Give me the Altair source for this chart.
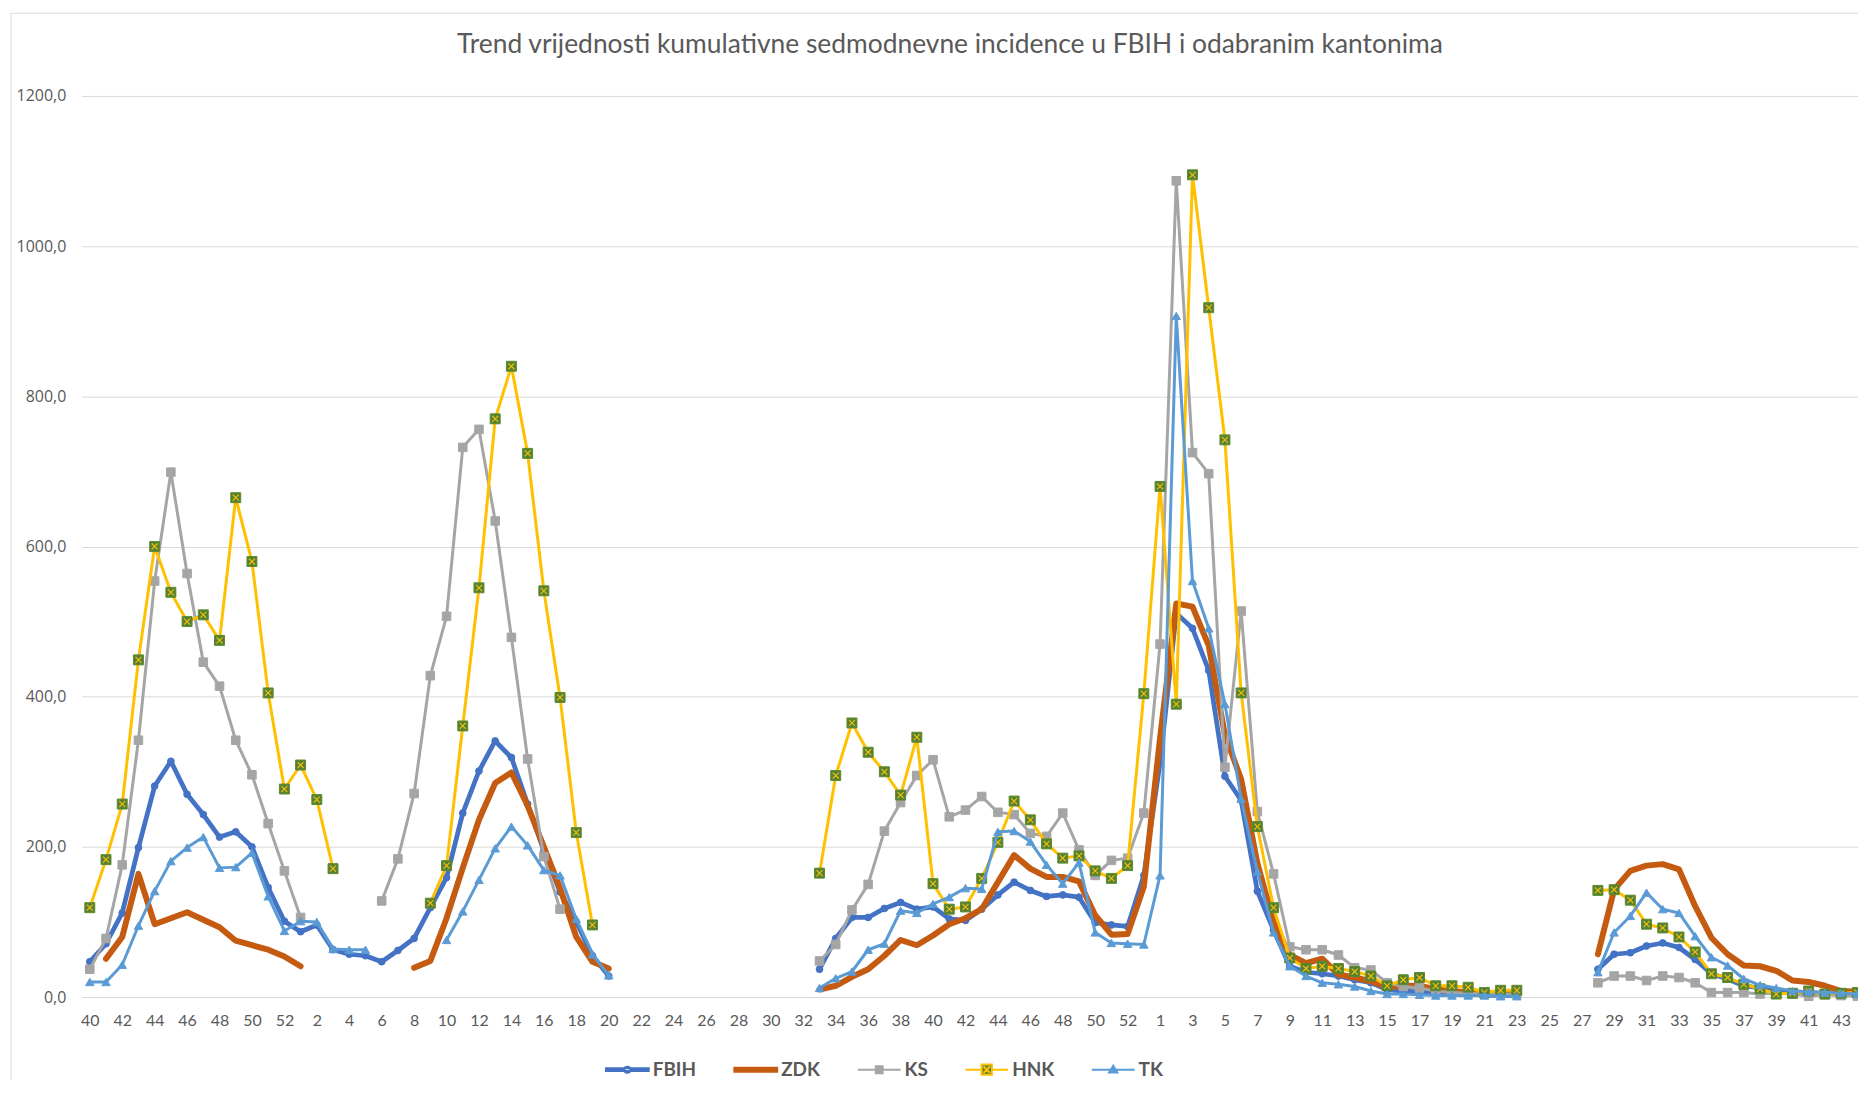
import json
import altair as alt
import pandas as pd

# ---------------- data ----------------
weeks = ([str(w) for w in range(40, 53)] + [str(w) for w in range(1, 53)] + ["53"]
         + [str(w) for w in range(1, 45)])

series_names = ["FBIH", "ZDK", "KS", "HNK", "TK"]

fbih = [47, 71, 112, 199, 281, 314, 270, 243, 213, 220, 200, 146, 101, 87, 96, 63, 57, 55, 47, 62,
        78, 119, 159, 245, 301, 341, 319, 257, 195, 140, 100, 55, 28,
        None, None, None, None, None, None, None, None, None, None, None, None,
        37, 78, 106, 106, 118, 126, 117, 120, 104, 102, 117, 136, 153, 142, 134, 136, 133, 99, 96, 94,
        162, 312, 511, 491, 435, 294, 262, 141, 89, 41, 33, 31, 28, 23, 19, 10, 8, 7, 5, 5, 4, 3, 2, 2,
        None, None, None, None,
        37, 57, 59, 68, 72, 66, 50, 31, 24, 15, 12, 8, 7, 6, 5, 4, 4]

zdk = [None, 51, 80, 164, 97, 105, 113, 103, 93, 75, 69, 63, 54, 41,
       None, None, None, None, None, None,
       39, 48, 105, 172, 236, 285, 299, 255, 200, 145, 80, 47, 38,
       None, None, None, None, None, None, None, None, None, None, None, None,
       10, 15, 27, 37, 55, 76, 69, 82, 97, 105, 117, 153, 189, 171, 160, 160, 154, 109, 83, 84,
       147, 345, 524, 520, 468, 349, 290, 178, 100, 56, 45, 51, 30, 26, 21, 13, 15, 15, 10, 8, 6, 5, 5, 5,
       None, None, None, None,
       57, 143, 168, 175, 177, 170, 121, 79, 57, 42, 41, 35, 22, 20, 15, 8, 7]

ks = [37, 78, 176, 342, 554, 699, 564, 446, 414, 342, 296, 231, 168, 106,
      None, None, None, None,
      128, 184, 271, 428, 507, 732, 756, 634, 479, 317, 187, 117,
      None, None, None, None, None, None, None, None, None, None, None, None, None, None, None,
      48, 70, 116, 150, 221, 259, 295, 316, 240, 249, 267, 246, 243, 218, 214, 245, 196, 162, 182, 185,
      245, 470, 1087, 725, 697, 306, 514, 247, 164, 67, 63, 63, 56, 39, 36, 19, 14, 12, 8, 6, 5, 4, 4, 4,
      None, None, None, None,
      19, 28, 28, 22, 28, 26, 19, 6, 6, 6, 4, 5, 4, 1, 3, 2, 1]

hnk = [119, 183, 257, 449, 600, 539, 500, 509, 475, 665, 580, 405, 277, 309, 263, 171,
       None, None, None, None, None,
       125, 175, 361, 545, 770, 840, 724, 541, 399, 219, 96,
       None, None, None, None, None, None, None, None, None, None, None, None, None,
       165, 295, 365, 326, 300, 269, 346, 151, 117, 120, 158, 206, 261, 236, 204, 185, 188, 168, 158, 175,
       404, 680, 390, 1095, 918, 742, 405, 227, 119, 52, 38, 41, 38, 34, 28, 15, 23, 26, 15, 15, 13, 6, 9, 9,
       None, None, None, None,
       142, 143, 129, 97, 92, 80, 60, 31, 26, 17, 11, 4, 5, 8, 4, 5, 6]

tk = [20, 20, 43, 95, 141, 181, 199, 213, 172, 173, 192, 134, 88, 101, 100, 64, 63, 63,
      None, None, None, None,
      76, 114, 156, 198, 227, 202, 169, 162, 104, 57, 29,
      None, None, None, None, None, None, None, None, None, None, None, None,
      12, 25, 34, 63, 71, 115, 112, 124, 133, 145, 144, 220, 221, 207, 176, 151, 179, 86, 72, 71,
      70, 162, 907, 554, 491, 390, 264, 167, 86, 41, 28, 19, 17, 14, 8, 4, 4, 3, 2, 2, 2, 2, 1, 1,
      None, None, None, None,
      33, 86, 108, 139, 117, 112, 81, 53, 42, 24, 16, 12, 8, 7, 6, 5, 4]

y_ticks = [0, 200, 400, 600, 800, 1000, 1200]
TITLE = "Trend vrijednosti kumulativne sedmodnevne incidence u FBIH i odabranim kantonima"

# ---------------- styles ----------------
line_colors = ["#4472C4", "#C55A11", "#A5A5A5", "#FFC000", "#5B9BD5"]
legend_fills = ["#4472C4", "#C55A11", "#A5A5A5", "#548235", "#5B9BD5"]
X_MARK = "M-0.6,-0.6L0.6,0.6M-0.6,0.6L0.6,-0.6"
# legend symbol paths (10 px per unit, line spans 43 px)
circ = "M-0.3,0A0.3,0.3,0,1,0,0.3,0A0.3,0.3,0,1,0,-0.3,0Z"
legend_paths = [
    "M-2.15,-0.138L2.15,-0.138L2.15,0.138L-2.15,0.138Z" + circ,
    "M-2.15,-0.2L2.15,-0.2L2.15,0.2L-2.15,0.2Z",
    "M-2.15,0L2.15,0M-0.344,-0.344L0.344,-0.344L0.344,0.344L-0.344,0.344Z",
    "M-2.15,0L-0.516,0M0.516,0L2.15,0M-0.516,-0.516L0.516,-0.516L0.516,0.516L-0.516,0.516Z"
    "M-0.32,-0.32L0.32,0.32M-0.32,0.32L0.32,-0.32",
    "M-2.15,0L2.15,0M0,-0.41L0.41,0.28L-0.41,0.28Z",
]
styles = {
    "FBIH": dict(width=4.75, markers=[dict(shape="circle", size=46, filled=True, fill="#4472C4",
                                           stroke="#4472C4", strokeWidth=1)]),
    "ZDK": dict(width=6.0, markers=[]),
    "KS": dict(width=3.0, markers=[dict(shape="square", size=74, filled=True, fill="#A5A5A5",
                                         stroke="#A5A5A5", strokeWidth=1)]),
    "HNK": dict(width=3.0, markers=[dict(shape="square", size=100, filled=True, fill="#548235",
                                          stroke="#5E8A2A", strokeWidth=1),
                                     dict(shape=X_MARK, size=100, filled=False, stroke="#FFC000",
                                          strokeWidth=1.1)]),
    "TK": dict(width=3.0, markers=[dict(shape="triangle-up", size=72, filled=True, fill="#5B9BD5",
                                         stroke="#5B9BD5", strokeWidth=1)]),
}

# ---------------- table ----------------
rows = []
for name, vals in zip(series_names, [fbih, zdk, ks, hnk, tk]):
    seg, prev = 0, False
    for i, v in enumerate(vals):
        if v is None:
            if prev:
                seg += 1
            prev = False
            continue
        rows.append({"idx": i, "week": weeks[i], "series": name, "value": v, "seg": f"{name}-{seg}"})
        prev = True
df = pd.DataFrame(rows)

W, H = 1784, 905
N = len(weeks)

x_enc = alt.X("idx:Q",
              scale=alt.Scale(domain=[-0.5, 109.04], nice=False, zero=False),
              axis=alt.Axis(values=list(range(0, N, 2)),
                            labelExpr=f"{json.dumps(weeks)}[datum.value]",
                            grid=False, ticks=False, tickSize=0, domain=True,
                            domainColor="#D9D9D9", domainWidth=1, title=None,
                            labelFont="Lato", labelFontSize=16, labelColor="#595959",
                            labelPadding=24, labelBaseline="middle", labelAngle=0,
                            labelOverlap=False, labelFlush=False))
y_enc = alt.Y("value:Q",
              scale=alt.Scale(domain=[0, 1200], nice=False, zero=True),
              axis=alt.Axis(values=y_ticks,
                            labelExpr="replace(format(datum.value, '.1f'), '.', ',')",
                            grid=True, gridColor="#D9D9D9", gridWidth=1,
                            ticks=False, tickSize=0, domain=False, title=None,
                            labelFont="Open Sans", labelFontSize=16, labelColor="#595959",
                            labelPadding=16))

base = alt.Chart(df)
layers = []
for name, col in zip(series_names, line_colors):
    st = styles[name]
    sub = base.transform_filter(alt.datum.series == name)
    layers.append(sub.mark_line(color=col, strokeWidth=st["width"], strokeJoin="round",
                                strokeCap="round").encode(x=x_enc, y=y_enc, detail="seg:N"))
    for m in st["markers"]:
        layers.append(sub.mark_point(opacity=1, **m).encode(x=x_enc, y=y_enc))

leg = alt.Legend(orient="none", legendX=537, legendY=967, direction="horizontal", title=None,
                 labelFont="Lato", labelFontSize=19, labelFontWeight="bold", labelColor="#595959",
                 symbolSize=400, symbolStrokeWidth=2, labelOffset=14.5, columnPadding=33,
                 padding=0, symbolOpacity=1)
legend_layer = base.transform_filter("datum.idx < 0").mark_point(filled=True, opacity=1).encode(
    fill=alt.Fill("series:N", scale=alt.Scale(domain=series_names, range=legend_fills), legend=leg),
    stroke=alt.Stroke("series:N", scale=alt.Scale(domain=series_names, range=line_colors), legend=leg),
    shape=alt.Shape("series:N", scale=alt.Scale(domain=series_names, range=legend_paths), legend=leg),
)

one = alt.Data(values=[{}])
frame_v = alt.Chart(one).mark_rule(color="#D9D9D9", strokeWidth=1).encode(
    x=alt.value(-71), y=alt.value(-83), y2=alt.value(1000))
frame_h = alt.Chart(one).mark_rule(color="#D9D9D9", strokeWidth=1).encode(
    x=alt.value(-71), x2=alt.value(W), y=alt.value(-83))
title_layer = alt.Chart(one).mark_text(text=TITLE, font="Lato", fontSize=26.5, color="#595959",
                                       align="center", baseline="alphabetic").encode(
    x=alt.value(872), y=alt.value(-43))

chart = alt.layer(*layers, legend_layer, frame_v, frame_h, title_layer).properties(
    width=W, height=H,
    padding={"left": 74, "top": 86, "right": 0, "bottom": 81},
    autosize=alt.AutoSizeParams(type="none"),
    background="white",
).configure_view(stroke=None)

chart.save("out.html", embed_options={"renderer": "svg", "actions": False})
